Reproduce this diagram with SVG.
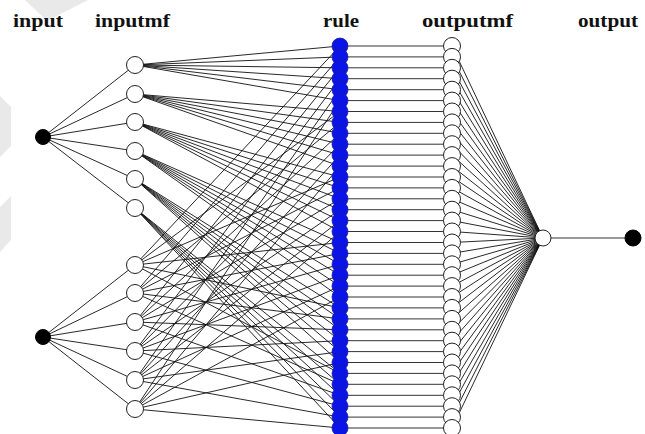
<svg xmlns="http://www.w3.org/2000/svg" width="645" height="434" viewBox="0 0 645 434">
<style>
.lbl{font-family:"Liberation Serif","Times New Roman",serif;font-weight:bold;font-size:18px;fill:#111}
.wm{fill:#e9e9e9}
.c{fill:none;stroke:#111;stroke-width:0.9}
.h{fill:none;stroke:#333;stroke-width:1}
.mf{fill:#fff;stroke:#222;stroke-width:1}
.rule{fill:#0a14e6;stroke:#1a1aa0;stroke-width:0.8}
.blk{fill:#000;stroke:#000;stroke-width:1}
</style>
<rect width="645" height="434" fill="#fff"/>
<g id="watermark">
<polygon class="wm" points="25,0 88,0 47,21"/>
<polygon class="wm" points="0,96 11,107 11,146 0,157"/>
<polygon class="wm" points="11,196 11,240 0,252 0,207"/>
</g>
<g id="labels">
<text class="lbl" x="13" y="27" textLength="50" lengthAdjust="spacingAndGlyphs">input</text>
<text class="lbl" x="95" y="27" textLength="75" lengthAdjust="spacingAndGlyphs">inputmf</text>
<text class="lbl" x="323" y="27" textLength="36" lengthAdjust="spacingAndGlyphs">rule</text>
<text class="lbl" x="422" y="27" textLength="91" lengthAdjust="spacingAndGlyphs">outputmf</text>
<text class="lbl" x="578" y="27" textLength="60" lengthAdjust="spacingAndGlyphs">output</text>
</g>
<g id="connectors">
<path class="c" d="M43 137L135 65M43 137L135 94M43 137L135 122M43 137L135 151M43 137L135 179M43 137L135 208"/>
<path class="c" d="M43 337L135 265M43 337L135 293M43 337L135 322M43 337L135 351M43 337L135 380M43 337L135 409"/>
<path class="c" d="M135 65L340 46M135 65L340 56.9M135 65L340 67.8M135 65L340 78.7M135 65L340 89.7M135 65L340 100.6"/>
<path class="c" d="M135 94L340 111.5M135 94L340 122.4M135 94L340 133.3M135 94L340 144.2M135 94L340 155.1M135 94L340 166.1"/>
<path class="c" d="M135 122L340 177M135 122L340 187.9M135 122L340 198.8M135 122L340 209.7M135 122L340 220.6M135 122L340 231.5"/>
<path class="c" d="M135 151L340 242.5M135 151L340 253.4M135 151L340 264.3M135 151L340 275.2M135 151L340 286.1M135 151L340 297"/>
<path class="c" d="M135 179L340 307.9M135 179L340 318.9M135 179L340 329.8M135 179L340 340.7M135 179L340 351.6M135 179L340 362.5"/>
<path class="c" d="M135 208L340 373.4M135 208L340 384.3M135 208L340 395.3M135 208L340 406.2M135 208L340 417.1M135 208L340 428"/>
<path class="c" d="M135 265L340 46M135 265L340 111.5M135 265L340 177M135 265L340 242.5M135 265L340 307.9M135 265L340 373.4"/>
<path class="c" d="M135 293L340 56.9M135 293L340 122.4M135 293L340 187.9M135 293L340 253.4M135 293L340 318.9M135 293L340 384.3"/>
<path class="c" d="M135 322L340 67.8M135 322L340 133.3M135 322L340 198.8M135 322L340 264.3M135 322L340 329.8M135 322L340 395.3"/>
<path class="c" d="M135 351L340 78.7M135 351L340 144.2M135 351L340 209.7M135 351L340 275.2M135 351L340 340.7M135 351L340 406.2"/>
<path class="c" d="M135 380L340 89.7M135 380L340 155.1M135 380L340 220.6M135 380L340 286.1M135 380L340 351.6M135 380L340 417.1"/>
<path class="c" d="M135 409L340 100.6M135 409L340 166.1M135 409L340 231.5M135 409L340 297M135 409L340 362.5M135 409L340 428"/>
<path class="h" d="M340 46H452M340 56.9H452M340 67.8H452M340 78.7H452M340 89.7H452M340 100.6H452M340 111.5H452M340 122.4H452M340 133.3H452M340 144.2H452M340 155.1H452M340 166.1H452M340 177H452M340 187.9H452M340 198.8H452M340 209.7H452M340 220.6H452M340 231.5H452M340 242.5H452M340 253.4H452M340 264.3H452M340 275.2H452M340 286.1H452M340 297H452M340 307.9H452M340 318.9H452M340 329.8H452M340 340.7H452M340 351.6H452M340 362.5H452M340 373.4H452M340 384.3H452M340 395.3H452M340 406.2H452M340 417.1H452M340 428H452"/>
<path class="c" d="M452 46L543 238M452 56.9L543 238M452 67.8L543 238M452 78.7L543 238M452 89.7L543 238M452 100.6L543 238M452 111.5L543 238M452 122.4L543 238M452 133.3L543 238M452 144.2L543 238M452 155.1L543 238M452 166.1L543 238M452 177L543 238M452 187.9L543 238M452 198.8L543 238M452 209.7L543 238M452 220.6L543 238M452 231.5L543 238M452 242.5L543 238M452 253.4L543 238M452 264.3L543 238M452 275.2L543 238M452 286.1L543 238M452 297L543 238M452 307.9L543 238M452 318.9L543 238M452 329.8L543 238M452 340.7L543 238M452 351.6L543 238M452 362.5L543 238M452 373.4L543 238M452 384.3L543 238M452 395.3L543 238M452 406.2L543 238M452 417.1L543 238M452 428L543 238"/>
<path class="h" d="M543 238H633"/>
</g>
<g id="input1"><circle class="blk" cx="43" cy="137" r="7.5"/></g>
<g id="input2"><circle class="blk" cx="43" cy="337" r="7.5"/></g>
<g id="in1mf1"><circle class="mf" cx="135" cy="65" r="8.5"/></g>
<g id="in1mf2"><circle class="mf" cx="135" cy="94" r="8.5"/></g>
<g id="in1mf3"><circle class="mf" cx="135" cy="122" r="8.5"/></g>
<g id="in1mf4"><circle class="mf" cx="135" cy="151" r="8.5"/></g>
<g id="in1mf5"><circle class="mf" cx="135" cy="179" r="8.5"/></g>
<g id="in1mf6"><circle class="mf" cx="135" cy="208" r="8.5"/></g>
<g id="in2mf1"><circle class="mf" cx="135" cy="265" r="8.5"/></g>
<g id="in2mf2"><circle class="mf" cx="135" cy="293" r="8.5"/></g>
<g id="in2mf3"><circle class="mf" cx="135" cy="322" r="8.5"/></g>
<g id="in2mf4"><circle class="mf" cx="135" cy="351" r="8.5"/></g>
<g id="in2mf5"><circle class="mf" cx="135" cy="380" r="8.5"/></g>
<g id="in2mf6"><circle class="mf" cx="135" cy="409" r="8.5"/></g>
<g id="rule1"><circle class="rule" cx="340" cy="46" r="8"/></g>
<g id="rule2"><circle class="rule" cx="340" cy="56.9" r="8"/></g>
<g id="rule3"><circle class="rule" cx="340" cy="67.8" r="8"/></g>
<g id="rule4"><circle class="rule" cx="340" cy="78.7" r="8"/></g>
<g id="rule5"><circle class="rule" cx="340" cy="89.7" r="8"/></g>
<g id="rule6"><circle class="rule" cx="340" cy="100.6" r="8"/></g>
<g id="rule7"><circle class="rule" cx="340" cy="111.5" r="8"/></g>
<g id="rule8"><circle class="rule" cx="340" cy="122.4" r="8"/></g>
<g id="rule9"><circle class="rule" cx="340" cy="133.3" r="8"/></g>
<g id="rule10"><circle class="rule" cx="340" cy="144.2" r="8"/></g>
<g id="rule11"><circle class="rule" cx="340" cy="155.1" r="8"/></g>
<g id="rule12"><circle class="rule" cx="340" cy="166.1" r="8"/></g>
<g id="rule13"><circle class="rule" cx="340" cy="177" r="8"/></g>
<g id="rule14"><circle class="rule" cx="340" cy="187.9" r="8"/></g>
<g id="rule15"><circle class="rule" cx="340" cy="198.8" r="8"/></g>
<g id="rule16"><circle class="rule" cx="340" cy="209.7" r="8"/></g>
<g id="rule17"><circle class="rule" cx="340" cy="220.6" r="8"/></g>
<g id="rule18"><circle class="rule" cx="340" cy="231.5" r="8"/></g>
<g id="rule19"><circle class="rule" cx="340" cy="242.5" r="8"/></g>
<g id="rule20"><circle class="rule" cx="340" cy="253.4" r="8"/></g>
<g id="rule21"><circle class="rule" cx="340" cy="264.3" r="8"/></g>
<g id="rule22"><circle class="rule" cx="340" cy="275.2" r="8"/></g>
<g id="rule23"><circle class="rule" cx="340" cy="286.1" r="8"/></g>
<g id="rule24"><circle class="rule" cx="340" cy="297" r="8"/></g>
<g id="rule25"><circle class="rule" cx="340" cy="307.9" r="8"/></g>
<g id="rule26"><circle class="rule" cx="340" cy="318.9" r="8"/></g>
<g id="rule27"><circle class="rule" cx="340" cy="329.8" r="8"/></g>
<g id="rule28"><circle class="rule" cx="340" cy="340.7" r="8"/></g>
<g id="rule29"><circle class="rule" cx="340" cy="351.6" r="8"/></g>
<g id="rule30"><circle class="rule" cx="340" cy="362.5" r="8"/></g>
<g id="rule31"><circle class="rule" cx="340" cy="373.4" r="8"/></g>
<g id="rule32"><circle class="rule" cx="340" cy="384.3" r="8"/></g>
<g id="rule33"><circle class="rule" cx="340" cy="395.3" r="8"/></g>
<g id="rule34"><circle class="rule" cx="340" cy="406.2" r="8"/></g>
<g id="rule35"><circle class="rule" cx="340" cy="417.1" r="8"/></g>
<g id="rule36"><circle class="rule" cx="340" cy="428" r="8"/></g>
<g id="outmf1"><circle class="mf" cx="452" cy="46" r="8.5"/></g>
<g id="outmf2"><circle class="mf" cx="452" cy="56.9" r="8.5"/></g>
<g id="outmf3"><circle class="mf" cx="452" cy="67.8" r="8.5"/></g>
<g id="outmf4"><circle class="mf" cx="452" cy="78.7" r="8.5"/></g>
<g id="outmf5"><circle class="mf" cx="452" cy="89.7" r="8.5"/></g>
<g id="outmf6"><circle class="mf" cx="452" cy="100.6" r="8.5"/></g>
<g id="outmf7"><circle class="mf" cx="452" cy="111.5" r="8.5"/></g>
<g id="outmf8"><circle class="mf" cx="452" cy="122.4" r="8.5"/></g>
<g id="outmf9"><circle class="mf" cx="452" cy="133.3" r="8.5"/></g>
<g id="outmf10"><circle class="mf" cx="452" cy="144.2" r="8.5"/></g>
<g id="outmf11"><circle class="mf" cx="452" cy="155.1" r="8.5"/></g>
<g id="outmf12"><circle class="mf" cx="452" cy="166.1" r="8.5"/></g>
<g id="outmf13"><circle class="mf" cx="452" cy="177" r="8.5"/></g>
<g id="outmf14"><circle class="mf" cx="452" cy="187.9" r="8.5"/></g>
<g id="outmf15"><circle class="mf" cx="452" cy="198.8" r="8.5"/></g>
<g id="outmf16"><circle class="mf" cx="452" cy="209.7" r="8.5"/></g>
<g id="outmf17"><circle class="mf" cx="452" cy="220.6" r="8.5"/></g>
<g id="outmf18"><circle class="mf" cx="452" cy="231.5" r="8.5"/></g>
<g id="outmf19"><circle class="mf" cx="452" cy="242.5" r="8.5"/></g>
<g id="outmf20"><circle class="mf" cx="452" cy="253.4" r="8.5"/></g>
<g id="outmf21"><circle class="mf" cx="452" cy="264.3" r="8.5"/></g>
<g id="outmf22"><circle class="mf" cx="452" cy="275.2" r="8.5"/></g>
<g id="outmf23"><circle class="mf" cx="452" cy="286.1" r="8.5"/></g>
<g id="outmf24"><circle class="mf" cx="452" cy="297" r="8.5"/></g>
<g id="outmf25"><circle class="mf" cx="452" cy="307.9" r="8.5"/></g>
<g id="outmf26"><circle class="mf" cx="452" cy="318.9" r="8.5"/></g>
<g id="outmf27"><circle class="mf" cx="452" cy="329.8" r="8.5"/></g>
<g id="outmf28"><circle class="mf" cx="452" cy="340.7" r="8.5"/></g>
<g id="outmf29"><circle class="mf" cx="452" cy="351.6" r="8.5"/></g>
<g id="outmf30"><circle class="mf" cx="452" cy="362.5" r="8.5"/></g>
<g id="outmf31"><circle class="mf" cx="452" cy="373.4" r="8.5"/></g>
<g id="outmf32"><circle class="mf" cx="452" cy="384.3" r="8.5"/></g>
<g id="outmf33"><circle class="mf" cx="452" cy="395.3" r="8.5"/></g>
<g id="outmf34"><circle class="mf" cx="452" cy="406.2" r="8.5"/></g>
<g id="outmf35"><circle class="mf" cx="452" cy="417.1" r="8.5"/></g>
<g id="outmf36"><circle class="mf" cx="452" cy="428" r="8.5"/></g>
<g id="sum"><circle class="mf" cx="543" cy="238" r="8"/></g>
<g id="output1"><circle class="blk" cx="633" cy="238" r="8"/></g>
</svg>
